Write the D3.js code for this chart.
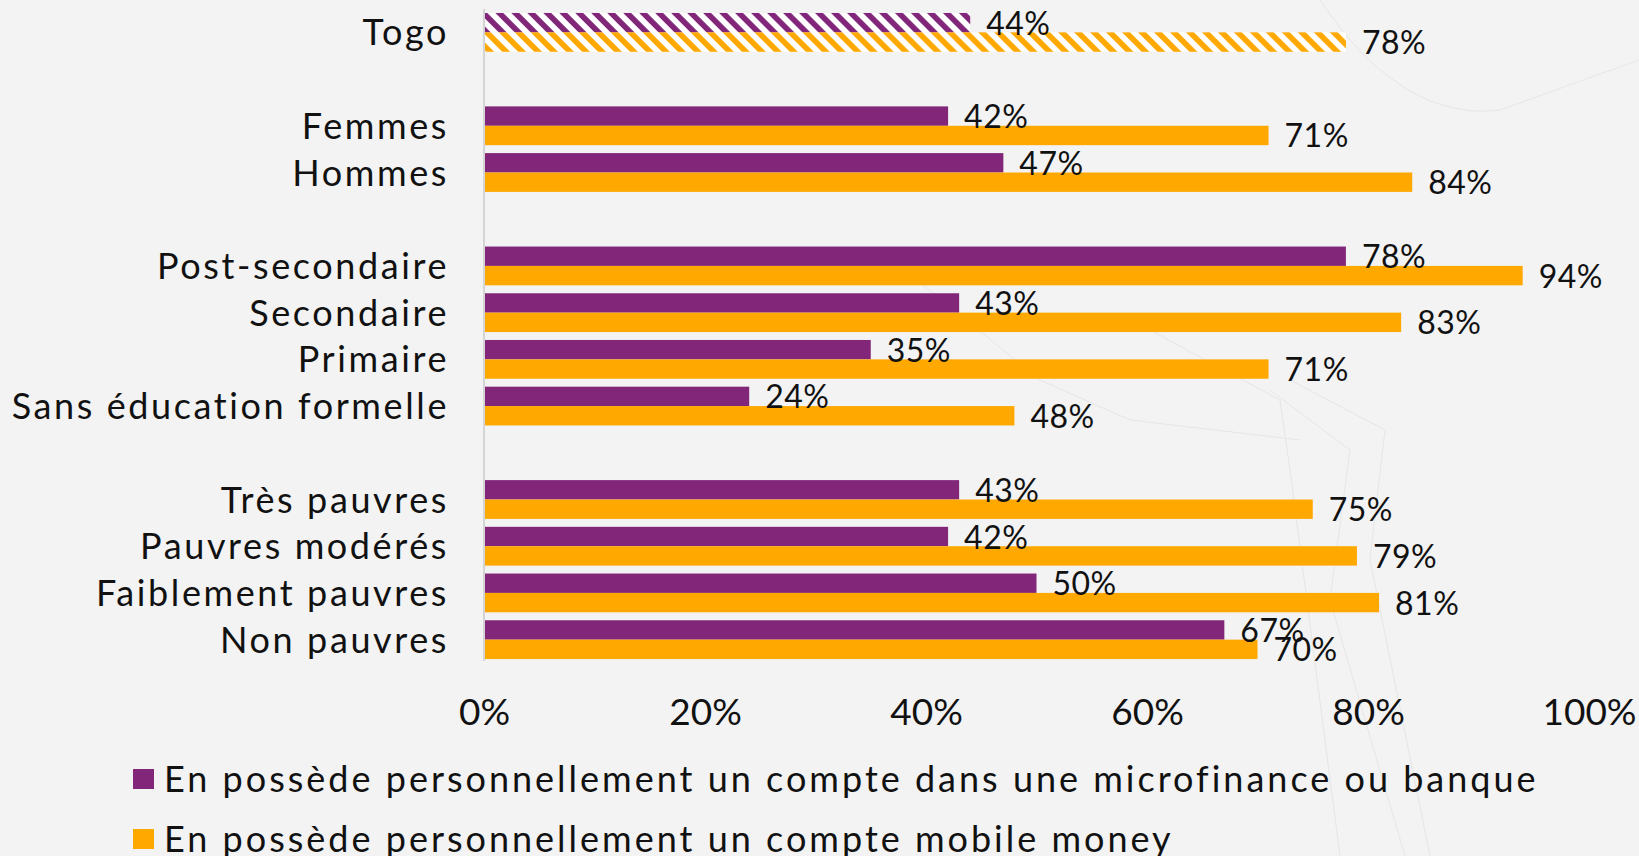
<!DOCTYPE html>
<html>
<head>
<meta charset="utf-8">
<script src="https://cdn.jsdelivr.net/npm/d3@7"></script>
<style>
  body { margin: 0; background: #f3f3f3; }
  svg { display: block; font-family: Lato, "Noto Sans", sans-serif; }
</style>
</head>
<body>
<div id="chart"></div>
<script>
// categories, grouped (blank row between groups)
var groups = [
    ["Togo"],
    ["Femmes", "Hommes"],
    ["Post-secondaire", "Secondaire", "Primaire", "Sans éducation formelle"],
    ["Très pauvres", "Pauvres modérés", "Faiblement pauvres", "Non pauvres"]
];
var categories = ["Togo", "Femmes", "Hommes", "Post-secondaire", "Secondaire", "Primaire",
    "Sans éducation formelle", "Très pauvres", "Pauvres modérés", "Faiblement pauvres", "Non pauvres"];
var banque = [44, 42, 47, 78, 43, 35, 24, 43, 42, 50, 67];
var mobile = [78, 71, 84, 94, 83, 71, 48, 75, 79, 81, 70];
var seriesNames = [
    "En possède personnellement un compte dans une microfinance ou banque",
    "En possède personnellement un compte mobile money"
];
var seriesKeys = ["banque", "mobile"];
var seriesColors = ["#82267a", "#ffa800"];
var xTicks = [0, 20, 40, 60, 80, 100];

var width = 1639, height = 856;

// row layout: each category gets a row, a blank row between groups
var rows = [];
groups.forEach(function (g, gi) {
    if (gi > 0) rows.push(null);
    g.forEach(function (c) { rows.push(c); });
});

var data = categories.map(function (c, i) {
    return { cat: c, row: rows.indexOf(c), banque: banque[i], mobile: mobile[i], total: c === "Togo" };
});

var svg = d3.select("#chart").append("svg")
    .attr("width", width)
    .attr("height", height);

svg.append("rect").attr("width", width).attr("height", height).attr("fill", "#f3f3f3");

// faint background decoration
var deco = svg.append("g").attr("fill", "none").attr("stroke", "#dcdcdc").attr("stroke-width", 1).attr("opacity", 0.55);
deco.append("path").attr("d", "M1290,380 L1385,430 L1370,560 L1430,856");
deco.append("path").attr("d", "M1270,390 L1350,450 L1330,600 L1405,856");
deco.append("path").attr("d", "M1150,330 L1280,400 L1290,470 L1340,856");
deco.append("path").attr("d", "M1320,0 C1360,60 1420,120 1500,110 L1639,60");
deco.append("path").attr("d", "M880,250 L1040,380 L1130,420 L1300,440");

var defs = svg.append("defs");
seriesKeys.forEach(function (k, i) {
    var p = defs.append("pattern")
        .attr("id", "hatch-" + k)
        .attr("patternUnits", "userSpaceOnUse")
        .attr("width", 11.3)
        .attr("height", 11.3)
        .attr("patternTransform", "rotate(-45)");
    p.append("rect").attr("width", 11.3).attr("height", 11.3).attr("fill", "#ffffff");
    p.append("rect").attr("width", 5.6).attr("height", 11.3).attr("fill", seriesColors[i]);
});

var x = d3.scaleLinear().domain([0, 100]).range([484, 1589]);

var y = d3.scaleBand()
    .domain(d3.range(rows.length))
    .range([9, 663])
    .paddingInner(0.17)
    .paddingOuter(0.085);

var ySub = d3.scaleBand()
    .domain(seriesKeys)
    .range([0, y.bandwidth()]);

// bars
var node = svg.selectAll(".cat")
    .data(data)
    .enter()
    .append("g")
    .attr("class", "cat")
    .attr("transform", function (d) { return "translate(0," + y(d.row) + ")"; });

seriesKeys.forEach(function (k, i) {
    node.append("rect")
        .attr("x", x(0))
        .attr("y", ySub(k))
        .attr("width", function (d) { return x(d[k]) - x(0); })
        .attr("height", ySub.bandwidth())
        .attr("fill", function (d) { return d.total ? "url(#hatch-" + k + ")" : seriesColors[i]; });
});

seriesKeys.forEach(function (k) {
    node.append("text")
        .attr("x", function (d) { return x(d[k]) + 16; })
        .attr("y", ySub(k) + ySub.bandwidth() / 2 + 12)
        .attr("font-size", 32)
        .attr("letter-spacing", 0.5)
        .attr("fill", "#111")
        .text(function (d) { return d[k] + "%"; });
});

// category labels
svg.append("g").selectAll("text")
    .data(data)
    .enter()
    .append("text")
    .attr("x", 449)
    .attr("y", function (d) { return y(d.row) + y.bandwidth() / 2 + 13; })
    .attr("text-anchor", "end")
    .attr("font-size", 36)
    .attr("letter-spacing", 2.6)
    .attr("fill", "#111")
    .text(function (d) { return d.cat; });

// vertical axis line
svg.append("line")
    .attr("x1", x(0)).attr("x2", x(0))
    .attr("y1", 9).attr("y2", 661)
    .attr("stroke", "#d4d4d4")
    .attr("stroke-width", 2);

// x axis tick labels
var xAxis = d3.axisBottom(x)
    .tickValues(xTicks)
    .tickSize(0)
    .tickFormat(function (d) { return d + "%"; });

var gx = svg.append("g")
    .attr("transform", "translate(0,725)")
    .call(xAxis);
gx.select(".domain").remove();
gx.selectAll("text")
    .attr("y", 0)
    .attr("dy", 0)
    .attr("font-size", 37)
    .attr("font-family", "Lato, 'Noto Sans', sans-serif")
    .attr("fill", "#111");

// legend
var legend = svg.append("g").selectAll("g")
    .data(seriesNames)
    .enter()
    .append("g")
    .attr("transform", function (d, i) { return "translate(133," + (769 + i * 60) + ")"; });

legend.append("rect")
    .attr("width", 21)
    .attr("height", 20)
    .attr("fill", function (d, i) { return seriesColors[i]; });

legend.append("text")
    .attr("x", 31)
    .attr("y", 23)
    .attr("font-size", 36)
    .attr("letter-spacing", 3.0)
    .attr("fill", "#111")
    .text(function (d) { return d; });
</script>
</body>
</html>
